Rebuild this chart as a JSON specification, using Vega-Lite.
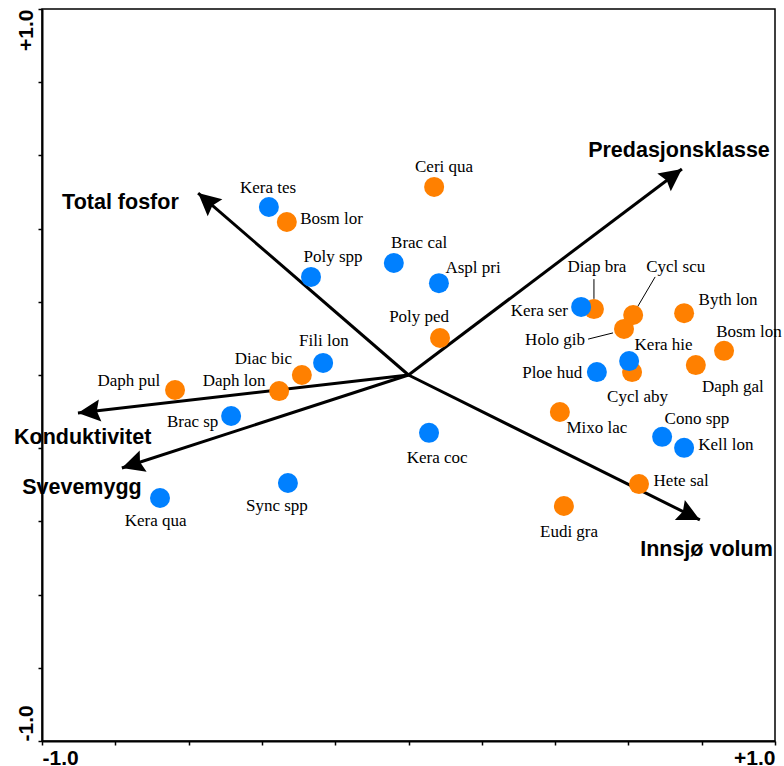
{
  "$schema": "https://vega.github.io/schema/vega-lite/v6.json",
  "autosize": {"type": "none"},
  "padding": {"left": 42, "top": 9, "right": 9, "bottom": 25},
  "width": 733,
  "height": 732,
  "background": "white",
  "config": {
    "view": {"stroke": "black", "strokeWidth": 1.5},
    "axis": {
      "grid": false,
      "title": null,
      "domainColor": "black",
      "domainWidth": 2,
      "tickColor": "black",
      "tickWidth": 1.5,
      "tickSize": 4,
      "labelColor": "black",
      "labelFont": "Liberation Sans",
      "labelFontWeight": "bold",
      "labelFontSize": 21,
      "labelOverlap": false
    }
  },
  "datasets": {
    "species": [
      {"name": "Kera tes", "g": "A", "x": -0.381, "y": 0.459, "lx": -0.383, "ly": 0.497},
      {"name": "Bosm lor", "g": "B", "x": -0.332, "y": 0.418, "lx": -0.210, "ly": 0.413},
      {"name": "Ceri qua", "g": "B", "x": 0.070, "y": 0.514, "lx": 0.097, "ly": 0.555},
      {"name": "Poly spp", "g": "A", "x": -0.266, "y": 0.268, "lx": -0.206, "ly": 0.309},
      {"name": "Brac cal", "g": "A", "x": -0.040, "y": 0.306, "lx": 0.029, "ly": 0.347},
      {"name": "Aspl pri", "g": "A", "x": 0.083, "y": 0.251, "lx": 0.176, "ly": 0.279},
      {"name": "Poly ped", "g": "B", "x": 0.086, "y": 0.101, "lx": 0.029, "ly": 0.145},
      {"name": "Fili lon", "g": "A", "x": -0.233, "y": 0.033, "lx": -0.231, "ly": 0.079},
      {"name": "Diac bic", "g": "B", "x": -0.291, "y": 0.000, "lx": -0.396, "ly": 0.030},
      {"name": "Daph lon", "g": "B", "x": -0.353, "y": -0.044, "lx": -0.476, "ly": -0.030},
      {"name": "Daph pul", "g": "B", "x": -0.637, "y": -0.041, "lx": -0.763, "ly": -0.030},
      {"name": "Brac sp", "g": "A", "x": -0.484, "y": -0.112, "lx": -0.589, "ly": -0.142},
      {"name": "Kera coc", "g": "A", "x": 0.056, "y": -0.158, "lx": 0.078, "ly": -0.240},
      {"name": "Sync spp", "g": "A", "x": -0.329, "y": -0.295, "lx": -0.359, "ly": -0.372},
      {"name": "Kera qua", "g": "A", "x": -0.678, "y": -0.336, "lx": -0.690, "ly": -0.413},
      {"name": "Diap bra", "g": "B", "x": 0.506, "y": 0.180, "lx": 0.514, "ly": 0.281},
      {"name": "Kera ser", "g": "A", "x": 0.471, "y": 0.186, "lx": 0.357, "ly": 0.161},
      {"name": "Cycl scu", "g": "B", "x": 0.613, "y": 0.164, "lx": 0.729, "ly": 0.281},
      {"name": "Holo gib", "g": "B", "x": 0.588, "y": 0.126, "lx": 0.400, "ly": 0.082},
      {"name": "Byth lon", "g": "B", "x": 0.752, "y": 0.169, "lx": 0.872, "ly": 0.191},
      {"name": "Bosm lon", "g": "B", "x": 0.861, "y": 0.066, "lx": 0.929, "ly": 0.104},
      {"name": "Daph gal", "g": "B", "x": 0.784, "y": 0.027, "lx": 0.885, "ly": -0.046},
      {"name": "Cycl aby", "g": "B", "x": 0.610, "y": 0.008, "lx": 0.625, "ly": -0.074},
      {"name": "Kera hie", "g": "A", "x": 0.602, "y": 0.038, "lx": 0.696, "ly": 0.068},
      {"name": "Ploe hud", "g": "A", "x": 0.514, "y": 0.008, "lx": 0.392, "ly": -0.008},
      {"name": "Mixo lac", "g": "B", "x": 0.413, "y": -0.101, "lx": 0.514, "ly": -0.158},
      {"name": "Cono spp", "g": "A", "x": 0.692, "y": -0.169, "lx": 0.787, "ly": -0.134},
      {"name": "Kell lon", "g": "A", "x": 0.752, "y": -0.199, "lx": 0.866, "ly": -0.205},
      {"name": "Hete sal", "g": "B", "x": 0.629, "y": -0.298, "lx": 0.744, "ly": -0.303},
      {"name": "Eudi gra", "g": "B", "x": 0.424, "y": -0.358, "lx": 0.438, "ly": -0.443}
    ],
    "vectors": [
      {"name": "Predasjonsklasse", "ox": 0, "oy": 0, "x": 0.746, "y": 0.563, "lx": 0.738, "ly": 0.596},
      {"name": "Total fosfor", "ox": 0, "oy": 0, "x": -0.574, "y": 0.497, "lx": -0.786, "ly": 0.454},
      {"name": "Konduktivitet", "ox": 0, "oy": 0, "x": -0.902, "y": -0.104, "lx": -0.889, "ly": -0.189},
      {"name": "Svevemygg", "ox": 0, "oy": 0, "x": -0.782, "y": -0.254, "lx": -0.891, "ly": -0.325},
      {"name": "Innsjø volum", "ox": 0, "oy": 0, "x": 0.795, "y": -0.396, "lx": 0.813, "ly": -0.495}
    ],
    "leaders": [
      {"x": 0.506, "y": 0.262, "x2": 0.506, "y2": 0.208},
      {"x": 0.673, "y": 0.268, "x2": 0.623, "y2": 0.183},
      {"x": 0.490, "y": 0.098, "x2": 0.558, "y2": 0.115}
    ]
  },
  "layer": [
    {
      "data": {"name": "vectors"},
      "mark": {"type": "rule", "color": "black", "strokeWidth": 3},
      "encoding": {
        "x": {
          "field": "ox", "type": "quantitative",
          "scale": {"domain": [-1, 1], "nice": false, "zero": false},
          "axis": {
            "values": [-1, -0.9, -0.8, -0.7, -0.6, -0.5, -0.4, -0.3, -0.2, -0.1, 0, 0.1, 0.2, 0.3, 0.4, 0.5, 0.6, 0.7, 0.8, 0.9, 1],
            "labelExpr": "datum.value <= -0.999 ? '-1.0' : (datum.value >= 0.999 ? '+1.0' : '')",
            "labelFlush": true,
            "labelPadding": 2
          }
        },
        "y": {
          "field": "oy", "type": "quantitative",
          "scale": {"domain": [-1, 1], "nice": false, "zero": false},
          "axis": {
            "values": [-1, -0.9, -0.8, -0.7, -0.6, -0.5, -0.4, -0.3, -0.2, -0.1, 0, 0.1, 0.2, 0.3, 0.4, 0.5, 0.6, 0.7, 0.8, 0.9, 1],
            "labelExpr": "datum.value <= -0.999 ? '-1.0' : (datum.value >= 0.999 ? '+1.0' : '')",
            "labelAngle": 270,
            "labelAlign": {"condition": {"test": "datum.value > 0", "value": "right"}, "value": "left"},
            "labelBaseline": "alphabetic",
            "labelPadding": 6
          }
        },
        "x2": {"field": "x"},
        "y2": {"field": "y"}
      }
    },
    {
      "data": {"name": "vectors"},
      "transform": [{"calculate": "atan2(datum.x, datum.y) * 180 / PI", "as": "ang"}],
      "mark": {"type": "point", "shape": "M0,0 L0.5,1 L0,0.85 L-0.5,1 Z", "filled": true, "color": "black", "opacity": 1, "size": 2000, "strokeWidth": 0},
      "encoding": {
        "x": {"field": "x", "type": "quantitative"},
        "y": {"field": "y", "type": "quantitative"},
        "angle": {"field": "ang", "type": "quantitative", "scale": null}
      }
    },
    {
      "data": {"name": "vectors"},
      "mark": {"type": "text", "font": "Liberation Sans", "fontWeight": "bold", "fontSize": 21.5, "color": "black", "align": "center", "baseline": "alphabetic"},
      "encoding": {
        "x": {"field": "lx", "type": "quantitative"},
        "y": {"field": "ly", "type": "quantitative"},
        "text": {"field": "name"}
      }
    },
    {
      "data": {"name": "leaders"},
      "mark": {"type": "rule", "color": "black", "strokeWidth": 1},
      "encoding": {
        "x": {"field": "x", "type": "quantitative"},
        "y": {"field": "y", "type": "quantitative"},
        "x2": {"field": "x2"},
        "y2": {"field": "y2"}
      }
    },
    {
      "data": {"name": "species"},
      "mark": {"type": "circle", "size": 400, "opacity": 1},
      "encoding": {
        "x": {"field": "x", "type": "quantitative"},
        "y": {"field": "y", "type": "quantitative"},
        "color": {"field": "g", "type": "nominal", "scale": {"domain": ["A", "B"], "range": ["#0080FF", "#FF8000"]}, "legend": null}
      }
    },
    {
      "data": {"name": "species"},
      "mark": {"type": "text", "font": "'Liberation Serif', 'Times New Roman', serif", "fontSize": 17, "color": "black", "align": "center", "baseline": "alphabetic"},
      "encoding": {
        "x": {"field": "lx", "type": "quantitative"},
        "y": {"field": "ly", "type": "quantitative"},
        "text": {"field": "name"}
      }
    }
  ]
}
